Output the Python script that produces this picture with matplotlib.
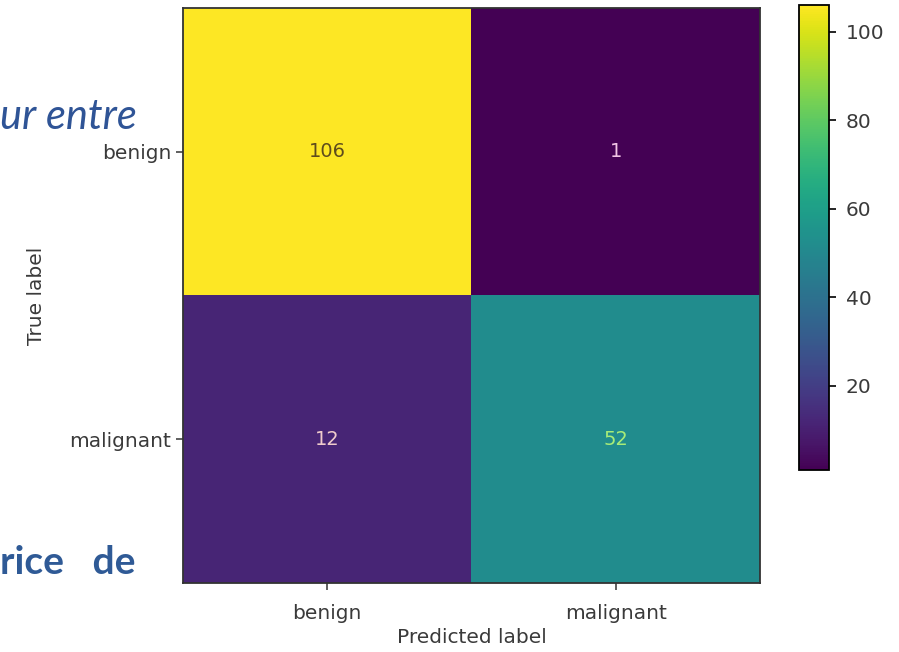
import numpy as np
import matplotlib
matplotlib.use('Agg')
import matplotlib.pyplot as plt

classes = ['benign', 'malignant']
cm = np.array([[106, 1],
               [12, 52]])
cbar_ticks = [20, 40, 60, 80, 100]

# text colours as they look in the (compressed) screenshot
cell_text_colors = [['#5e4c1c', '#f2c4e6'],
                    ['#f0cccc', '#a8ec78']]

fig = plt.figure(figsize=(8.99, 6.52), dpi=100)
ax = fig.add_axes([183/899, 1 - 583/652, 577/899, 575/652])
cax = fig.add_axes([799/899, 1 - 470/652, 30/899, 465/652])

im = ax.imshow(cm, cmap='viridis', vmin=cm.min(), vmax=cm.max(), aspect='auto')

for i in range(cm.shape[0]):
    for j in range(cm.shape[1]):
        ax.text(j, i, str(cm[i, j]), ha='center', va='center',
                fontsize=14, color=cell_text_colors[i][j])

tick_col = '#3a3a3a'
ax.set_xticks(range(len(classes)))
ax.set_yticks(range(len(classes)))
ax.set_xticklabels(classes, fontsize=14.5, color=tick_col)
ax.set_yticklabels(classes, fontsize=14.5, color=tick_col)
ax.tick_params(length=5, width=1.2, color='#444444')
ax.tick_params(axis='x', pad=10)
ax.set_xlabel('Predicted label', fontsize=14.5, color=tick_col, labelpad=4)
ax.set_ylabel('True label', fontsize=14.5, color=tick_col, labelpad=17)
for s in ax.spines.values():
    s.set_linewidth(1.3)
    s.set_color('#333333')

cb = fig.colorbar(im, cax=cax)
cb.set_ticks(cbar_ticks)
cb.ax.tick_params(labelsize=14.5, labelcolor=tick_col, length=5, width=1.2, pad=7)
cb.outline.set_linewidth(1.3)

# fragments of the surrounding document that show in the screenshot
fig.text(0, 1 - 129/652, 'ur entre', family='Lato', style='italic',
         fontsize=30, color='#2f5496', ha='left', va='baseline')
fig.text(0, 1 - 574/652, 'rice   de', family='Lato', weight='bold',
         fontsize=28, color='#2f5a96', ha='left', va='baseline')

fig.savefig('out.png', dpi=100)
